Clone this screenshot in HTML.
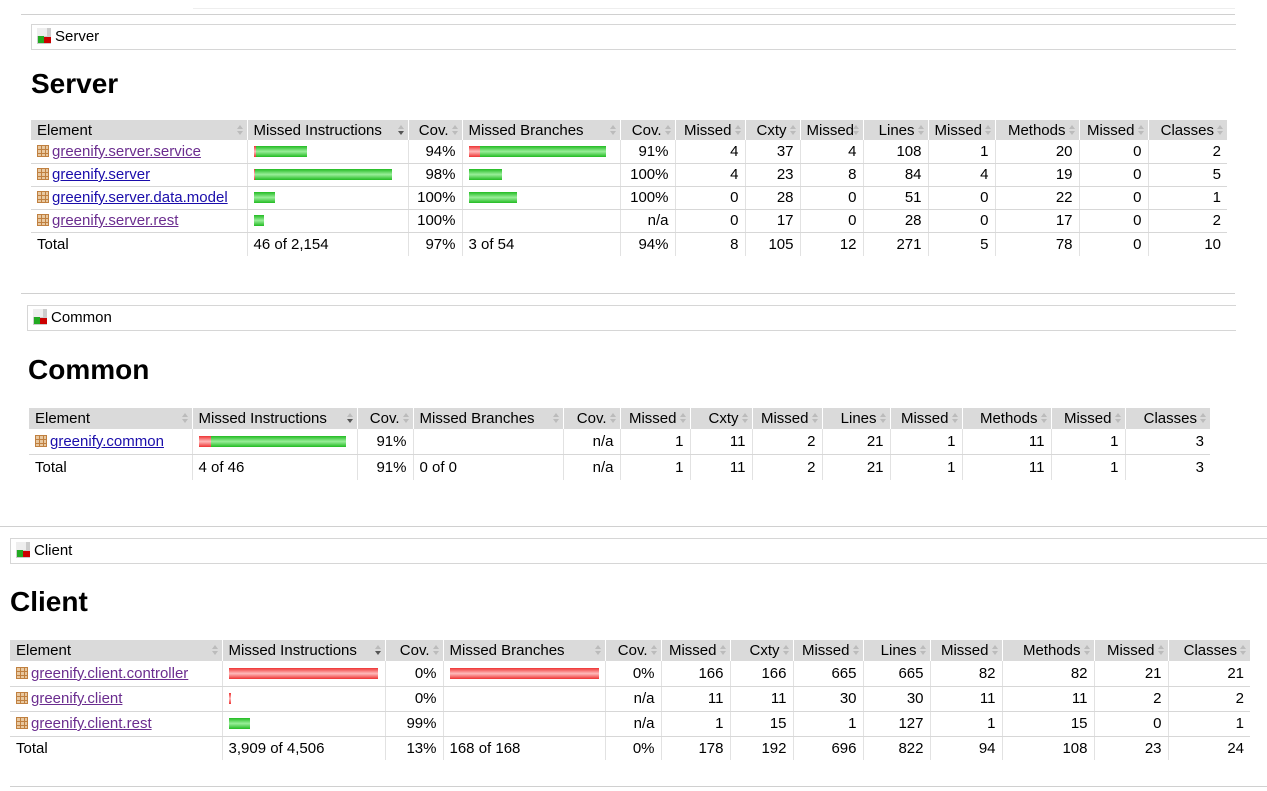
<!DOCTYPE html>
<html><head><meta charset="utf-8"><style>
body{margin:0;width:1267px;height:791px;background:#fff;position:relative;overflow:hidden;font-family:"Liberation Sans",Arial,sans-serif;font-size:15px;color:#000}
.hl{position:absolute;height:1px;background:#d0d0d0}
.bc{position:absolute;border:1px solid #d6d6d6;border-right:none;height:24px;line-height:24px;font-size:15px;background:#fff}
.bc .ic{display:inline-block;width:14px;height:16px;vertical-align:-3px;margin:0 4px 0 5px;background:linear-gradient(#eee,#eee) 0 0/10px 8px no-repeat,linear-gradient(#2a2,#2a2) 1px 8px/6px 7px no-repeat,linear-gradient(#c00,#c00) 7px 9px/7px 6px no-repeat,#ccc}
h1{position:absolute;margin:0;font-size:28px;font-weight:bold}
table{position:absolute;border-collapse:collapse;table-layout:fixed}
td{padding:0 6px;white-space:nowrap;overflow:hidden;border-left:1px solid #e2e2e2;border-bottom:1px solid #d7d7d7}
td:first-child{border-left:none}
tr.h td{background:#dadada;border-left:1px solid #fff;border-bottom:none;position:relative}
tr.h td:first-child{border-left:none}
tr.h td.r{padding-right:13px}
tr.t td{border-bottom:none}
.r{text-align:right}
.s{position:absolute;right:3px;top:5px;width:7px;height:11px}
.s:before,.s:after{content:"";position:absolute;left:0;border-left:3.5px solid transparent;border-right:3.5px solid transparent}
.s:before{top:0;border-bottom:4px solid #bbb}.s:after{top:6px;border-top:4px solid #bbb}
.s.d:after{border-top-color:#555}
a{color:#1a0dab;text-decoration:underline}
a.v{color:#6b2d8f}
.pk{display:inline-block;width:12px;height:12px;margin-right:3px;vertical-align:-1px;background:linear-gradient(90deg,transparent 3px,#c08040 3px,#c08040 4px,transparent 4px,transparent 7px,#c08040 7px,#c08040 8px,transparent 8px),linear-gradient(transparent 3px,#c08040 3px,#c08040 4px,transparent 4px,transparent 7px,#c08040 7px,#c08040 8px,transparent 8px),#e8c8a0;border:1px solid #c08040;box-sizing:border-box}
.b{display:inline-block;height:11px;vertical-align:-1px}
.g{background:linear-gradient(#2b2,#9e9 50%,#2b2)}
.rd{background:linear-gradient(#e33,#fbb 50%,#e33)}
</style></head><body>
<div class="hl" style="left:193px;top:8px;width:1042px;background:#eee"></div>
<div class="hl" style="left:21px;top:14px;width:1214px"></div>
<div class="bc" style="left:31px;top:24px;width:1204px"><span class="ic"></span>Server</div>
<h1 style="left:31px;top:68px">Server</h1>
<table style="left:31px;top:120px;width:1196px">
<colgroup><col style="width:216px"><col style="width:161px"><col style="width:54px"><col style="width:158px"><col style="width:55px"><col style="width:70px"><col style="width:55px"><col style="width:63px"><col style="width:65px"><col style="width:67px"><col style="width:84px"><col style="width:69px"><col style="width:79px"></colgroup>
<tr class="h" style="height:20px"><td>Element<i class="s"></i></td><td>Missed Instructions<i class="s d"></i></td><td class="r">Cov.<i class="s"></i></td><td>Missed Branches<i class="s"></i></td><td class="r">Cov.<i class="s"></i></td><td class="r">Missed<i class="s"></i></td><td class="r">Cxty<i class="s"></i></td><td class="r">Missed<i class="s"></i></td><td class="r">Lines<i class="s"></i></td><td class="r">Missed<i class="s"></i></td><td class="r">Methods<i class="s"></i></td><td class="r">Missed<i class="s"></i></td><td class="r">Classes<i class="s"></i></td></tr>
<tr style="height:23px"><td><span class="pk"></span><a class="v">greenify.server.service</a></td><td><span class="b rd" style="width:2px"></span><span class="b g" style="width:51px"></span></td><td class="r">94%</td><td><span class="b rd" style="width:11px"></span><span class="b g" style="width:126px"></span></td><td class="r">91%</td><td class="r">4</td><td class="r">37</td><td class="r">4</td><td class="r">108</td><td class="r">1</td><td class="r">20</td><td class="r">0</td><td class="r">2</td></tr>
<tr style="height:23px"><td><span class="pk"></span><a>greenify.server</a></td><td><span class="b rd" style="width:1px"></span><span class="b g" style="width:137px"></span></td><td class="r">98%</td><td><span class="b g" style="width:33px"></span></td><td class="r">100%</td><td class="r">4</td><td class="r">23</td><td class="r">8</td><td class="r">84</td><td class="r">4</td><td class="r">19</td><td class="r">0</td><td class="r">5</td></tr>
<tr style="height:23px"><td><span class="pk"></span><a>greenify.server.data.model</a></td><td><span class="b g" style="width:21px"></span></td><td class="r">100%</td><td><span class="b g" style="width:48px"></span></td><td class="r">100%</td><td class="r">0</td><td class="r">28</td><td class="r">0</td><td class="r">51</td><td class="r">0</td><td class="r">22</td><td class="r">0</td><td class="r">1</td></tr>
<tr style="height:23px"><td><span class="pk"></span><a class="v">greenify.server.rest</a></td><td><span class="b g" style="width:10px"></span></td><td class="r">100%</td><td></td><td class="r">n/a</td><td class="r">0</td><td class="r">17</td><td class="r">0</td><td class="r">28</td><td class="r">0</td><td class="r">17</td><td class="r">0</td><td class="r">2</td></tr>
<tr class="t" style="height:24px"><td>Total</td><td>46 of 2,154</td><td class="r">97%</td><td>3 of 54</td><td class="r">94%</td><td class="r">8</td><td class="r">105</td><td class="r">12</td><td class="r">271</td><td class="r">5</td><td class="r">78</td><td class="r">0</td><td class="r">10</td></tr>
</table>

<div class="hl" style="left:21px;top:293px;width:1214px"></div>
<div class="bc" style="left:27px;top:305px;width:1208px"><span class="ic"></span>Common</div>
<h1 style="left:28px;top:354px">Common</h1>
<table style="left:29px;top:408px;width:1181px">
<colgroup><col style="width:163px"><col style="width:165px"><col style="width:56px"><col style="width:150px"><col style="width:57px"><col style="width:70px"><col style="width:62px"><col style="width:70px"><col style="width:68px"><col style="width:72px"><col style="width:89px"><col style="width:74px"><col style="width:85px"></colgroup>
<tr class="h" style="height:21px"><td>Element<i class="s"></i></td><td>Missed Instructions<i class="s d"></i></td><td class="r">Cov.<i class="s"></i></td><td>Missed Branches<i class="s"></i></td><td class="r">Cov.<i class="s"></i></td><td class="r">Missed<i class="s"></i></td><td class="r">Cxty<i class="s"></i></td><td class="r">Missed<i class="s"></i></td><td class="r">Lines<i class="s"></i></td><td class="r">Missed<i class="s"></i></td><td class="r">Methods<i class="s"></i></td><td class="r">Missed<i class="s"></i></td><td class="r">Classes<i class="s"></i></td></tr>
<tr style="height:25px"><td><span class="pk"></span><a>greenify.common</a></td><td><span class="b rd" style="width:12px"></span><span class="b g" style="width:135px"></span></td><td class="r">91%</td><td></td><td class="r">n/a</td><td class="r">1</td><td class="r">11</td><td class="r">2</td><td class="r">21</td><td class="r">1</td><td class="r">11</td><td class="r">1</td><td class="r">3</td></tr>
<tr class="t" style="height:26px"><td>Total</td><td>4 of 46</td><td class="r">91%</td><td>0 of 0</td><td class="r">n/a</td><td class="r">1</td><td class="r">11</td><td class="r">2</td><td class="r">21</td><td class="r">1</td><td class="r">11</td><td class="r">1</td><td class="r">3</td></tr>
</table>

<div class="hl" style="left:0;top:526px;width:1267px"></div>
<div class="bc" style="left:10px;top:538px;width:1257px"><span class="ic"></span>Client</div>
<h1 style="left:10px;top:586px">Client</h1>
<table style="left:10px;top:640px;width:1240px">
<colgroup><col style="width:212px"><col style="width:163px"><col style="width:58px"><col style="width:162px"><col style="width:56px"><col style="width:69px"><col style="width:63px"><col style="width:70px"><col style="width:67px"><col style="width:72px"><col style="width:92px"><col style="width:74px"><col style="width:82px"></colgroup>
<tr class="h" style="height:21px"><td>Element<i class="s"></i></td><td>Missed Instructions<i class="s d"></i></td><td class="r">Cov.<i class="s"></i></td><td>Missed Branches<i class="s"></i></td><td class="r">Cov.<i class="s"></i></td><td class="r">Missed<i class="s"></i></td><td class="r">Cxty<i class="s"></i></td><td class="r">Missed<i class="s"></i></td><td class="r">Lines<i class="s"></i></td><td class="r">Missed<i class="s"></i></td><td class="r">Methods<i class="s"></i></td><td class="r">Missed<i class="s"></i></td><td class="r">Classes<i class="s"></i></td></tr>
<tr style="height:25px"><td><span class="pk"></span><a class="v">greenify.client.controller</a></td><td><span class="b rd" style="width:149px"></span></td><td class="r">0%</td><td><span class="b rd" style="width:149px"></span></td><td class="r">0%</td><td class="r">166</td><td class="r">166</td><td class="r">665</td><td class="r">665</td><td class="r">82</td><td class="r">82</td><td class="r">21</td><td class="r">21</td></tr>
<tr style="height:25px"><td><span class="pk"></span><a class="v">greenify.client</a></td><td><span class="b rd" style="width:2px"></span></td><td class="r">0%</td><td></td><td class="r">n/a</td><td class="r">11</td><td class="r">11</td><td class="r">30</td><td class="r">30</td><td class="r">11</td><td class="r">11</td><td class="r">2</td><td class="r">2</td></tr>
<tr style="height:25px"><td><span class="pk"></span><a class="v">greenify.client.rest</a></td><td><span class="b g" style="width:21px"></span></td><td class="r">99%</td><td></td><td class="r">n/a</td><td class="r">1</td><td class="r">15</td><td class="r">1</td><td class="r">127</td><td class="r">1</td><td class="r">15</td><td class="r">0</td><td class="r">1</td></tr>
<tr class="t" style="height:24px"><td>Total</td><td>3,909 of 4,506</td><td class="r">13%</td><td>168 of 168</td><td class="r">0%</td><td class="r">178</td><td class="r">192</td><td class="r">696</td><td class="r">822</td><td class="r">94</td><td class="r">108</td><td class="r">23</td><td class="r">24</td></tr>
</table>
<div class="hl" style="left:10px;top:786px;width:1257px"></div>
</body></html>
